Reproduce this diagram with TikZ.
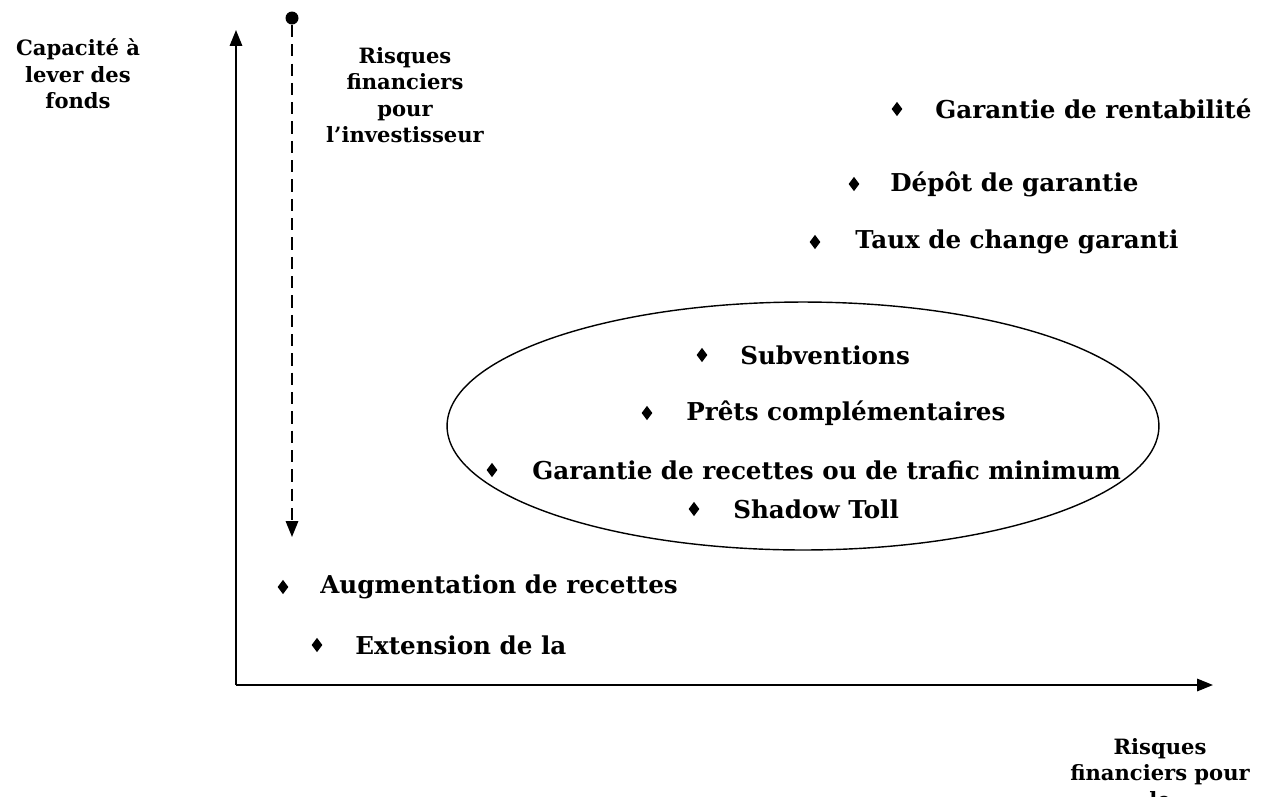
\documentclass[tikz,border=0pt]{standalone}
\usepackage{fontspec}
\setmainfont{DejaVu Serif}
\usetikzlibrary{arrows.meta}
\usetikzlibrary{shapes.geometric}
\usetikzlibrary{positioning}

\tikzset{
  axe/.style={line width=1.1pt, -{Triangle[length=9pt, width=7pt]}},
  puce/.style={diamond, fill, inner sep=0pt, minimum width=2.2mm, minimum height=2.9mm},
  item/.style={anchor=west, inner sep=0pt, font=\bfseries\fontsize{14}{16}\selectfont},
  titre/.style={align=center, inner sep=0pt, font=\bfseries\fontsize{12}{15}\selectfont}
}

\begin{document}
\begin{tikzpicture}[x=0.02cm, y=-0.02cm]
    \useasboundingbox (0,0) rectangle (1269,796);

    % axes
    \coordinate (O) at (236,685);
    \coordinate (ytip) at (236,30);
    \coordinate (xtip) at (1213,685);
    \draw[axe] (O) -- (ytip);
    \draw[axe] (O) -- (xtip);

    % fleche des risques
    \node[circle, fill, inner sep=0pt, minimum size=2.6mm] (haut) at (292,18) {};
    \coordinate (bas) at (292,537);
    \draw[line width=1.1pt, dash pattern=on 7pt off 4pt, -{Triangle[length=9pt, width=7pt]}] (haut) -- (bas);

    \node[titre] (ylab) at (78,74) {Capacité à\\lever des\\fonds};
    \node[titre] (risq) at (405,95) {Risques\\financiers\\pour\\l’investisseur};
    \node[titre, anchor=north] (xlab) at (1160,738) {Risques\\financiers pour\\le};

    % zone
    \node[draw, ellipse, line width=0.8pt, minimum width=14.24cm, minimum height=4.96cm] (zone) at (803,426) {};

    % mesures
    \node[puce] (p1) at (897,109) {};
    \node[item] (t1) at (935,109) {Garantie de rentabilité};
    \node[puce] (p2) at (854,184) {};
    \node[item] (t2) at (890,184) {Dépôt de garantie};
    \node[puce] (p3) at (815,242) {};
    \node[item] (t3) at (855,242) {Taux de change garanti};
    \node[puce] (p4) at (702,355) {};
    \node[item] (t4) at (740,355) {Subventions};
    \node[puce] (p5) at (647,413) {};
    \node[item] (t5) at (686,413) {Prêts complémentaires};
    \node[puce] (p6) at (492,470) {};
    \node[item] (t6) at (532,470) {Garantie de recettes ou de trafic minimum};
    \node[puce] (p7) at (694,509) {};
    \node[item] (t7) at (733,509) {Shadow Toll};
    \node[puce] (p8) at (283,587) {};
    \node[item] (t8) at (320,587) {Augmentation de recettes};
    \node[puce] (p9) at (317,645) {};
    \node[item] (t9) at (355,645) {Extension de la};
\end{tikzpicture}
\end{document}
